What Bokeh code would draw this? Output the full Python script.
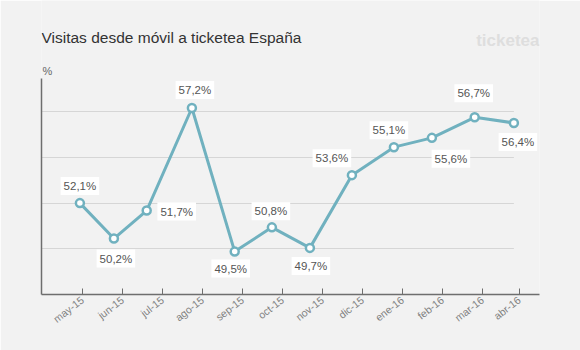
from bokeh.plotting import figure
from bokeh.models import FixedTicker, ColumnDataSource
from bokeh.core.properties import value
from bokeh.embed import file_html
from bokeh.resources import INLINE

# ---- data ----
months = ["may-15", "jun-15", "jul-15", "ago-15", "sep-15", "oct-15",
          "nov-15", "dic-15", "ene-16", "feb-16", "mar-16", "abr-16"]
visits = [52.1, 50.2, 51.7, 57.2, 49.5, 50.8, 49.7, 53.6, 55.1, 55.6, 56.7, 56.4]
x_pos = [-0.06, 0.79, 1.61, 2.74, 3.81, 4.74, 5.69, 6.74, 7.79, 8.74, 9.81, 10.79]
labels = [f"{v:.1f}%".replace(".", ",") for v in visits]
tick_pos = [0, 1, 2, 3, 4, 5, 6, 7, 8, 9, 10, 10.92]
title = "Visitas desde móvil a ticketea España"
brand = "ticketea"
unit = "%"

# label placement (screen px, relative to the point)
lab_dx = [0, 2, 30, 3, -4, -1, 1, -20, -5, 19, -1, 4]
lab_dy = [-17, 20, 1, -18, 17, -16, 18, -17, -17, 21, -24, 19]

BG = "#f2f2f2"
TEAL = "#70b1bf"
FONT = "Liberation Sans"
AXIS = "#6e6e6e"

# vertical scale: frame covers canvas y 0..294 (px)
FRAME_BOTTOM = 294
PX_PER_UNIT = 18.65
y0 = 47.2


def yv(px):
    """value at canvas pixel row px"""
    return y0 + (FRAME_BOTTOM - px) / PX_PER_UNIT


x0, x1 = -1.02, 11.43
y_top = yv(0)
axis_top = yv(78)

p = figure(width=580, height=350, output_backend="svg", toolbar_location=None,
           x_range=(x0, x1), y_range=(y0, y_top),
           min_border_left=41, min_border_right=41, min_border_top=0,
           min_border_bottom=56, background_fill_color=BG,
           border_fill_color=BG, outline_line_color=None)

# grid lines (stop at the last point)
grid_vals = [yv(px) for px in (111, 157, 203, 248)]
p.xgrid.visible = False
p.ygrid.visible = False
p.segment(x0=[x0] * 4, x1=[x_pos[-1]] * 4, y0=grid_vals, y1=grid_vals,
          line_color="#d6d6d6", line_width=1)

src = ColumnDataSource(dict(x=x_pos, y=visits, lab=labels, dx=lab_dx, dy=lab_dy))
p.line("x", "y", source=src, line_color=TEAL, line_width=3)
p.scatter("x", "y", source=src, size=8, fill_color="white",
          line_color=TEAL, line_width=2.5)
p.text("x", "y", text="lab", source=src, x_offset="dx", y_offset="dy",
       text_align="center", text_baseline="middle", text_font=value(FONT),
       text_font_size="11.5px", text_color="#555555",
       background_fill_color="white", padding=3)

# header texts
p.text(x=[x0], y=[yv(37)], text=[title], text_font=value(FONT),
       text_font_size="15.5px", text_color="#333333",
       text_align="left", text_baseline="alphabetic")
p.text(x=[x1], y=[yv(40)], text=[brand], x_offset=0, text_font=value(FONT),
       text_font_style="bold", text_font_size="17px", text_color="#dedede",
       text_align="right", text_baseline="alphabetic")
p.text(x=[x0], y=[yv(70)], text=[unit], x_offset=1, text_font=value(FONT),
       text_font_size="11px", text_color="#666666",
       text_align="left", text_baseline="alphabetic")

# axes
xa = p.xaxis[0]
xa.ticker = FixedTicker(ticks=tick_pos)
xa.major_label_overrides = {t: m for t, m in zip(tick_pos, months)}
xa.major_label_orientation = 0.66
xa.major_label_text_font = FONT
xa.major_label_text_font_size = "10.5px"
xa.major_label_text_color = "#808080"
xa.major_tick_in = 6
xa.major_tick_out = 0
xa.minor_tick_line_color = None
xa.axis_line_color = AXIS
xa.major_tick_line_color = AXIS
xa.axis_line_width = 1.5
xa.major_label_standoff = 4

ya = p.yaxis[0]
ya.ticker = FixedTicker(ticks=[])
ya.bounds = (y0, axis_top)
ya.major_label_text_font_size = "0px"
ya.major_tick_line_color = None
ya.minor_tick_line_color = None
ya.axis_line_color = AXIS
ya.axis_line_width = 1.5

open("out.html", "w").write(file_html(p, INLINE))
